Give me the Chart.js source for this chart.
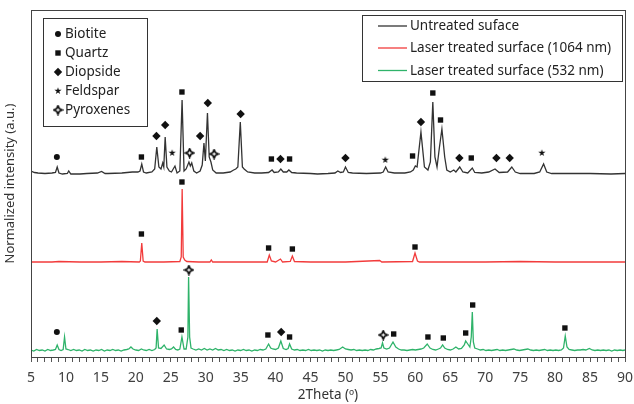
<!DOCTYPE html>
<html><head><meta charset="utf-8">
<script src="https://cdn.jsdelivr.net/npm/chart.js@4.4.1/dist/chart.umd.min.js"></script>
<style>html,body{margin:0;padding:0;background:#fff;}#wrap{width:634px;height:404px;}</style>
</head><body><div id="wrap"><canvas id="c" width="634" height="404"></canvas></div>
<script>
// ---------- DATA (2Theta in degrees, intensity in arbitrary offset units) ----------
const xTicks = [5,10,15,20,25,30,35,40,45,50,55,60,65,70,75,80,85,90];
const seriesNames = ['Untreated suface','Laser treated surface (1064 nm)','Laser treated surface (532 nm)'];
const phaseNames = ['Biotite','Quartz','Diopside','Feldspar','Pyroxenes'];

const untreated = [[5,186],[5.5,184.5],[6,184],[7,183.5],[8,184],[8.5,184.5],[8.75,190],[9,184],[9.5,183],[10.2,183.5],[10.4,186],[10.7,183],[12,183],[13,183.5],[14.5,184],[15.1,185.5],[15.6,183.5],[16,183.5],[18,184],[19.5,185],[20.3,185],[20.6,186],[20.85,193],[21.1,185],[21.5,184],[22.3,185],[22.7,188],[23,210],[23.3,190],[23.6,188],[23.85,194],[24,190],[24.2,220],[24.45,190],[24.8,186],[25.1,185],[25.6,191],[25.9,184],[26.3,186],[26.62,257],[26.9,186],[27.2,188],[27.6,195],[27.8,191],[28,194],[28.3,186],[28.7,184],[29.2,186],[29.5,192],[29.75,214],[29.95,196],[30.25,244],[30.5,200],[30.75,195],[31,187],[31.5,184],[32.5,184],[33.5,185],[34,187],[34.3,188],[34.6,190],[34.95,235],[35.25,190],[35.5,188],[36,185],[37,184],[38,184],[39,184.5],[39.5,187],[39.8,184.5],[40.4,185],[40.75,188],[41.1,185],[41.6,185],[41.9,187],[42.3,184.5],[43,184],[45,183.5],[46,183],[47.5,183.5],[48.5,184],[48.9,186],[49.3,184.5],[49.7,185],[50,190],[50.4,184.5],[51,184],[53,183.5],[55,184],[55.4,185],[55.75,190],[56.1,185],[57,184],[58.5,184],[59.3,185],[59.7,187],[60,191],[60.25,190],[60.8,225],[61.3,190],[61.8,187],[62.15,195],[62.5,255],[62.8,200],[63.1,190],[63.45,210],[63.8,228],[64.2,200],[64.5,187],[65,185],[65.5,187],[65.8,185],[66.35,190],[66.8,185],[67.5,184],[68.15,189],[68.5,184.5],[69.5,184],[70.5,185],[71.4,188],[72,184.5],[73.2,185],[73.8,190],[74.3,185],[75,183.5],[77,183.5],[77.8,185],[78.35,193],[78.8,185],[79.5,183.5],[82,183.5],[85,183.5],[88,183],[90,183.5]];

const laser1064 = [[5,95],[8,95],[9,95.5],[12,95],[15,95],[18,95.5],[20.5,95],[20.65,96],[20.85,114],[21.05,96],[21.3,95],[24,95],[26.3,95.5],[26.5,100],[26.63,168],[26.78,100],[27,97],[27.3,95.5],[29,95],[30.6,95],[30.8,97],[31,95],[35,95],[38.8,95],[39.1,102],[39.4,96],[40,95],[40.7,98],[41,95],[42.1,95.5],[42.4,101],[42.7,95.5],[45,95],[50,95],[54.9,96.5],[55.2,95],[59.6,95.5],[59.95,104],[60.3,96],[60.6,95],[65,95],[70,95],[75,95.5],[80,95],[85,95],[90,95]];

const laser532 = [[5,7],[5.4,6],[5.8,7.5],[6.2,6.5],[6.6,7],[7,6],[7.4,7.5],[7.8,6.5],[8.2,7],[8.5,7.5],[8.75,12],[9,7.5],[9.3,6.5],[9.6,7.5],[9.8,20],[10,8],[10.3,7.5],[10.7,6.5],[11.1,7.5],[11.5,6.5],[11.9,7],[12.3,6],[12.7,7.5],[13.1,6.5],[13.5,7],[13.9,6],[14.3,7],[14.7,6.5],[15.1,7.5],[15.5,6],[15.9,7],[16.3,6.5],[16.7,7.5],[17.1,6.5],[17.5,7],[17.9,6],[18.3,7],[18.7,7.5],[19,8],[19.3,10],[19.6,8],[20,7],[20.4,6.5],[20.8,8],[21.1,7],[21.5,6.5],[21.9,7.5],[22.3,6.5],[22.7,7.5],[22.9,9],[23.05,28],[23.25,9],[23.6,8.5],[24.05,12],[24.4,8],[24.8,7.5],[25.1,8],[25.4,10],[25.7,7.5],[26,7],[26.3,8],[26.6,20],[26.9,8],[27.2,8],[27.45,20],[27.55,80],[27.7,20],[27.9,9],[28.2,8],[28.6,7],[29,8],[29.4,7],[29.8,8.5],[30.2,7],[30.6,8],[31,7],[31.4,8.5],[31.8,7],[32.2,7.5],[32.6,6.5],[33,7.5],[33.4,6.5],[33.8,7],[34.2,6],[34.6,7],[35,6.5],[35.4,7.5],[35.8,6.5],[36.2,7],[36.6,6],[37,7],[37.4,6.5],[37.8,7.5],[38.2,7],[38.6,8],[39,13],[39.3,9],[39.6,8],[40,7.5],[40.4,9],[40.75,16],[41.1,8.5],[41.5,7.5],[41.8,8.5],[42,13],[42.3,8],[42.7,7],[43.1,7.5],[43.5,6.5],[43.9,7],[44.3,6.5],[44.7,7.5],[45.1,6.5],[45.5,7],[45.9,6.5],[46.3,7],[46.7,6],[47.1,7],[47.5,6.5],[47.9,7],[48.3,6.5],[48.7,7],[49.1,7.5],[49.6,10],[50,8],[50.4,7.5],[50.8,7],[51.2,7.5],[51.6,6.5],[52,7],[52.4,6.5],[52.8,7],[53.2,6.5],[53.6,7.5],[54,7],[54.4,8],[54.8,8.5],[55.1,9],[55.3,14],[55.5,9],[55.9,8],[56.3,9],[56.8,15],[57.2,10],[57.6,8],[58,7],[58.4,7],[58.8,6.5],[59.2,7],[59.6,7.5],[60,7],[60.4,7.5],[60.8,8],[61.2,9],[61.7,13],[62.1,9],[62.5,7.5],[62.9,7],[63.3,8],[63.6,9],[63.9,12],[64.2,9],[64.6,7.5],[65,7],[65.4,8],[65.8,10],[66.2,8],[66.6,8.5],[67,12],[67.2,16],[67.5,13],[67.8,10],[68,20],[68.15,45],[68.3,15],[68.5,9],[68.9,8],[69.3,7],[69.7,7.5],[70.1,6.5],[70.5,7],[70.9,6.5],[71.3,7],[71.7,7.5],[72.1,6.5],[72.5,7],[72.9,6.5],[73.3,7],[73.7,7.5],[74.1,8],[74.5,7],[74.9,6.5],[75.3,7],[75.7,7.5],[76.1,8],[76.5,7],[76.9,6.5],[77.3,7],[77.7,6.5],[78.1,7],[78.5,7.5],[78.9,6.5],[79.3,7],[79.7,6.5],[80.1,7],[80.5,6.5],[80.9,7],[81.2,9],[81.45,21],[81.7,10],[82,7.5],[82.4,7],[82.8,6.5],[83.2,7],[83.6,7],[84,7.5],[84.4,7],[84.9,8.5],[85.3,7],[85.7,6.5],[86.1,7],[86.5,6.5],[86.9,7],[87.3,6.5],[87.7,7],[88.1,6],[88.5,7],[88.9,6.5],[89.3,7],[89.7,6.5],[90,7]];

// phase markers placed above peaks [2Theta, height]
const biotiteMarks = [[8.7,200],[8.7,25]];
const quartzMarks = [[20.8,200],[26.6,265],[39.4,198],[42.0,198],[59.6,201],[62.5,264],[63.6,237],[68.0,199],
  [20.8,123],[26.6,175],[39.0,109],[42.4,108],[59.95,110],
  [26.5,27],[38.9,22],[42.0,20],[56.9,23],[61.8,20],[64.0,19],[67.2,24],[68.2,52],[81.4,29]];
const diopsideMarks = [[22.95,221],[24.2,232],[29.2,221],[30.3,254],[35.0,243],[40.7,198],[50.0,199],[60.8,235],[66.3,199],[71.6,199],[73.5,199],
  [23.0,36],[40.8,25]];
const feldsparMarks = [[25.2,204],[55.7,197],[78.1,204]];
const pyroxeneMarks = [[27.7,204],[31.2,203],[27.6,87],[55.4,22]];

// ---------- rendering ----------
const toXY = a => a.map(p => ({x:p[0], y:p[1]}));
const FONT = '"Noto Sans", "Open Sans", sans-serif';

function starImg(){
  const c=document.createElement('canvas'); c.width=c.height=10;
  const g=c.getContext('2d'); g.fillStyle='#111'; g.beginPath();
  for(let i=0;i<10;i++){const r=i%2?1.4:3.8;const a=-Math.PI/2+i*Math.PI/5;g.lineTo(5+r*Math.cos(a),5+r*Math.sin(a));}
  g.closePath(); g.fill(); return c;
}
function pyroImg(){
  const c=document.createElement('canvas'); c.width=c.height=11;
  const g=c.getContext('2d'); g.strokeStyle='#000'; g.lineWidth=1.6; g.fillStyle='#fff'; g.lineJoin='miter';
  const m=5.5, R=4.2, r=1.9;
  g.beginPath();
  for(let i=0;i<8;i++){const rr=i%2?r:R;const a=-Math.PI/2+i*Math.PI/4;g.lineTo(m+rr*Math.cos(a),m+rr*Math.sin(a));}
  g.closePath(); g.fill(); g.stroke(); return c;
}
const STAR = starImg(), PYRO = pyroImg();

function lineDs(label, data, color){
  return {label, data: toXY(data), borderColor: color, borderWidth: 1.3, pointRadius: 0, tension: 0, fill: false, order: 2};
}
function markDs(label, data, style, radius){
  return {label, data: toXY(data), showLine: false, pointStyle: style, pointRadius: radius, pointHoverRadius: radius,
    backgroundColor: '#111', borderColor: '#111', borderWidth: 0, order: 1};
}

const colors = ['#333333', '#f23b3b', '#2fb36a'];

const decor = {
  id: 'decor',
  afterDraw(chart){
    const ctx = chart.ctx, a = chart.chartArea;
    ctx.save();
    ctx.strokeStyle = '#444'; ctx.lineWidth = 1;
    ctx.strokeRect(Math.round(a.left)+0.5, Math.round(a.top)+0.5, Math.round(a.right-a.left), Math.round(a.bottom-a.top));
    // phase legend
    ctx.fillStyle = '#fff';
    ctx.fillRect(43.5, 18.5, 104, 108);
    ctx.strokeStyle = '#333'; ctx.strokeRect(43.5, 18.5, 104, 108);
    ctx.font = '13.5px ' + FONT; ctx.textBaseline = 'middle'; ctx.fillStyle = '#222';
    const rows = [34, 53, 72, 91, 110];
    const sx = 58;
    rows.forEach((y, i) => {
      ctx.fillStyle = '#111';
      if (i === 0){ ctx.beginPath(); ctx.arc(sx, y, 3, 0, Math.PI*2); ctx.fill(); }
      else if (i === 1){ ctx.fillRect(sx-2.7, y-2.7, 5.4, 5.4); }
      else if (i === 2){ ctx.beginPath(); ctx.moveTo(sx, y-4.2); ctx.lineTo(sx+4.2, y); ctx.lineTo(sx, y+4.2); ctx.lineTo(sx-4.2, y); ctx.closePath(); ctx.fill(); }
      else if (i === 3){ ctx.drawImage(STAR, sx-5, y-5); }
      else { ctx.drawImage(PYRO, sx-5.5, y-5.5); }
      ctx.fillStyle = '#222';
      ctx.fillText(phaseNames[i], 65, y+0.5);
    });
    // series legend
    ctx.fillStyle = '#fff';
    ctx.fillRect(362.5, 15.5, 260, 66);
    ctx.strokeStyle = '#333'; ctx.strokeRect(362.5, 15.5, 260, 66);
    const srows = [26, 48, 70.5];
    srows.forEach((y, i) => {
      ctx.strokeStyle = colors[i]; ctx.lineWidth = 1.3;
      ctx.beginPath(); ctx.moveTo(378, y); ctx.lineTo(407, y); ctx.stroke();
      ctx.fillStyle = '#222';
      ctx.fillText(seriesNames[i], 410, y+0.5);
    });
    ctx.restore();
  }
};

new Chart(document.getElementById('c'), {
  type: 'line',
  data: {
    datasets: [
      lineDs(seriesNames[0], untreated, colors[0]),
      lineDs(seriesNames[1], laser1064, colors[1]),
      lineDs(seriesNames[2], laser532, colors[2]),
      markDs(phaseNames[0], biotiteMarks, 'circle', 3),
      markDs(phaseNames[1], quartzMarks, 'rect', 3.8),
      markDs(phaseNames[2], diopsideMarks, 'rectRot', 4.2),
      markDs(phaseNames[3], feldsparMarks, STAR, 4),
      markDs(phaseNames[4], pyroxeneMarks, PYRO, 4)
    ]
  },
  options: {
    responsive: false, animation: false, devicePixelRatio: 1,
    layout: {padding: {left: 0, right: 9, top: 10, bottom: 0}},
    plugins: {legend: {display: false}, tooltip: {enabled: false}},
    events: [],
    scales: {
      x: {
        type: 'linear', min: 5, max: 90,
        afterBuildTicks: s => { const t=[]; for(let v=5; v<=90; v++) t.push({value:v}); s.ticks = t; },
        ticks: {autoSkip: false, maxRotation: 0, padding: 8, color: '#404040', font: {family: FONT, size: 14},
          callback: v => xTicks.includes(v) ? String(v) : ''},
        grid: {drawOnChartArea: false, drawTicks: true, tickLength: 5, color: '#555', lineWidth: 1},
        border: {display: true, color: '#444'},
        title: {display: true, text: '2Theta (º)', color: '#333', font: {family: FONT, size: 13.5}, padding: {top: 0, bottom: 1}},
        afterFit: s => { s.height = 47; s.paddingLeft = 0; s.paddingRight = 0; }
      },
      y: {
        min: 0, max: 347,
        ticks: {display: false},
        grid: {display: false},
        border: {display: true, color: '#444'},
        title: {display: true, text: 'Normalized intensity (a.u.)', color: '#333', font: {family: FONT, size: 13}, padding: {top: 2, bottom: 2}},
        afterFit: s => { s.width = 31; s.paddingTop = 0; s.paddingBottom = 0; }
      }
    }
  },
  plugins: [decor]
});
</script></body></html>
